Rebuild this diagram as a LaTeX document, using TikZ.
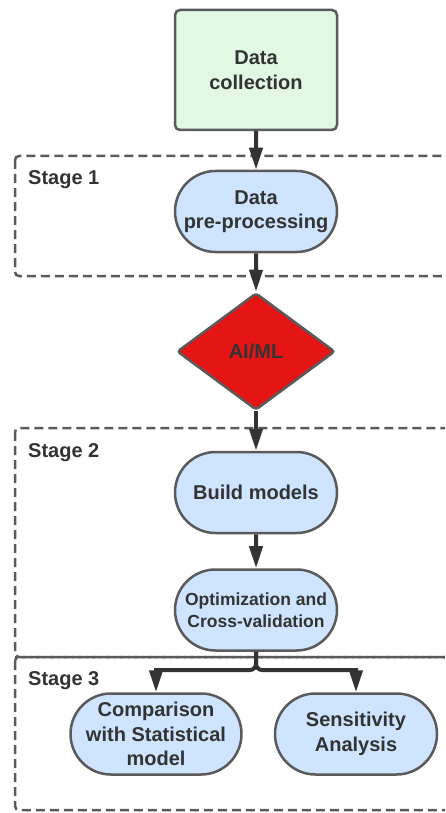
\documentclass[tikz,border=0pt]{standalone}
\usepackage{fontspec}
\setmainfont{Liberation Sans}
\usetikzlibrary{shapes.misc,shapes.geometric,arrows.meta}
\definecolor{txt}{HTML}{333333}
\definecolor{bord}{HTML}{5A5A5A}
\definecolor{pillfill}{HTML}{CFE4FF}
\definecolor{greenfill}{HTML}{E2F8E2}
\definecolor{redfill}{HTML}{E51515}
\definecolor{arrowc}{HTML}{333333}
\tikzset{
  basenode/.style={draw=bord, line width=2.5pt, text=txt, align=center, inner sep=0pt,
    font=\fontsize{20}{24.5}\selectfont\bfseries},
  pill/.style={basenode, rounded rectangle, fill=pillfill, minimum width=162pt, minimum height=81pt},
  startbox/.style={basenode, rectangle, rounded corners=5pt, fill=greenfill, minimum width=162pt, minimum height=120pt},
  decision/.style={basenode, diamond, fill=redfill, rounded corners=3pt, minimum width=158pt, minimum height=117pt},
  stagebox/.style={draw=bord, line width=2.5pt, dash pattern=on 9pt off 5pt, rounded corners=4pt},
  stagelbl/.style={text=txt, inner sep=0pt, anchor=base west, font=\fontsize{20}{24}\selectfont\bfseries},
  flow/.style={draw=arrowc, line width=4pt, -{Triangle[length=22pt,width=13pt]}},
}
\begin{document}
\begin{tikzpicture}[x=1pt,y=-1pt]
\useasboundingbox (0,0) rectangle (445,813);
\clip (0,0) rectangle (445,813);
% stage boxes
\draw[stagebox] (15,156) rectangle (470,276);
\draw[stagebox] (15,428) rectangle (470,657);
\draw[stagebox] (15,657) rectangle (470,810);
\node[stagelbl] (s1) at (28,185) {Stage 1};
\node[stagelbl] (s2) at (28,457) {Stage 2};
\node[stagelbl] (s3) at (28,685) {Stage 3};
% nodes
\node[startbox] (dc) at (256,70) {Data\\collection};
\node[pill] (pp) at (256,211.5) {Data\\pre-processing};
\node[decision] (ai) at (256,351.5) {AI/ML};
\node[pill] (bm) at (256,492.5) {Build models};
\node[pill, font=\fontsize{17.5}{22}\selectfont\bfseries] (op) at (256,610) {Optimization and\\Cross-validation};
\node[pill] (cm) at (156,734) {Comparison\\with Statistical\\model};
\node[pill] (sa) at (356,734) {Sensitivity\\Analysis};
\coordinate (j) at (256,670);
% arrows
\draw[flow] (dc) -- (pp);
\draw[flow] (pp) -- (ai);
\draw[flow] (ai) -- (bm);
\draw[flow] (bm) -- (op);
\draw[flow, rounded corners=6pt] (op.south) -- (j) [sharp corners] -| (cm.north);
\draw[flow, rounded corners=6pt] (op.south) -- (j) [sharp corners] -| (sa.north);
\end{tikzpicture}
\end{document}
